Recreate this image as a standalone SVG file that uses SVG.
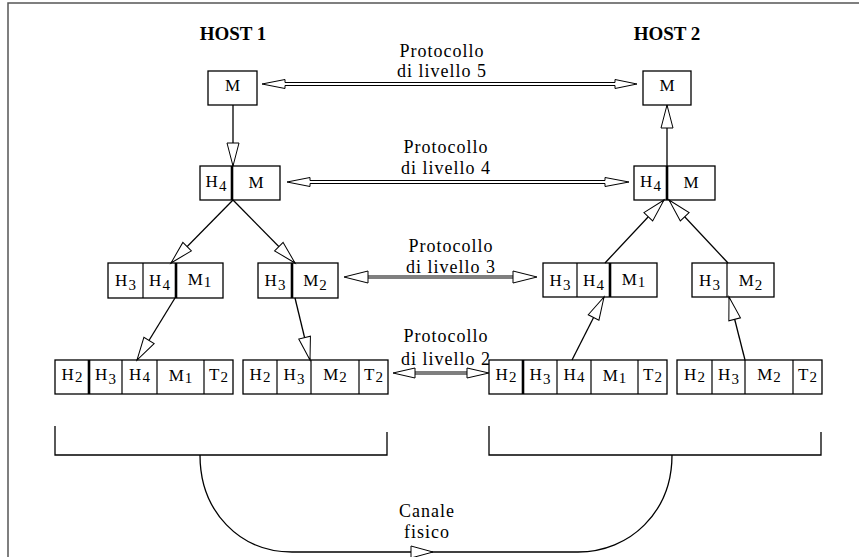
<svg xmlns="http://www.w3.org/2000/svg" width="859" height="557" viewBox="0 0 859 557">
<style>
.bx{fill:#fff;stroke:#000;stroke-width:1.3}
.dv{stroke:#000;stroke-width:1.2}
.dk{stroke:#000;stroke-width:2.6}
.t{font-family:"Liberation Serif","Times New Roman",serif;font-size:17px;letter-spacing:1px;fill:#000;text-anchor:middle}
.s{font-size:15px}
.lbl{font-family:"Liberation Serif","Times New Roman",serif;font-size:18px;letter-spacing:1px;fill:#000;text-anchor:middle}
.host{font-family:"Liberation Serif","Times New Roman",serif;font-size:19px;font-weight:bold;fill:#000;text-anchor:middle}
.ln{fill:none;stroke:#000;stroke-width:1.3}
.hol{fill:#fff;stroke:#000;stroke-width:1}
.gr{stroke:#7f7f7f;stroke-width:4;fill:none}
</style>
<defs>
<marker id="ah" markerUnits="userSpaceOnUse" markerWidth="26" markerHeight="14" viewBox="-1 -7 26 14" refX="23" refY="0" orient="auto" overflow="visible">
<path d="M0,-6 L23,0 L0,6 Z" fill="#fff" stroke="#000" stroke-width="1"/>
</marker>
</defs>
<rect width="859" height="557" fill="#fff"/>
<g id="frame">
<path d="M8,557 V3 H859" fill="none" stroke="#555" stroke-width="1.5"/>
</g>
<g id="labels">
<text class="host" x="233" y="40">HOST 1</text>
<text class="host" x="667" y="40">HOST 2</text>
<text class="lbl" x="442" y="57">Protocollo</text>
<text class="lbl" x="442" y="77">di livello 5</text>
<text class="lbl" x="446" y="153">Protocollo</text>
<text class="lbl" x="446" y="174">di livello 4</text>
<text class="lbl" x="451" y="252">Protocollo</text>
<text class="lbl" x="451" y="273">di livello 3</text>
<text class="lbl" x="446" y="342">Protocollo</text>
<text class="lbl" x="446" y="365">di livello 2</text>
<text class="lbl" x="427" y="517">Canale</text>
<text class="lbl" x="427" y="538">fisico</text>
</g>
<g id="h1-m">
<rect class="bx" x="208" y="71" width="49" height="34"/>
<text class="t" x="233" y="91">M</text>
</g>
<g id="h2-m">
<rect class="bx" x="643" y="71" width="48" height="34"/>
<text class="t" x="667.5" y="91">M</text>
</g>
<g id="h1-l4">
<rect class="bx" x="200" y="166" width="80" height="34"/>
<line class="dk" x1="232" y1="166" x2="232" y2="200"/>
<text class="t" x="216.5" y="187">H<tspan class="s" dy="4">4</tspan></text>
<text class="t" x="256.5" y="188">M</text>
</g>
<g id="h2-l4">
<rect class="bx" x="634" y="166" width="81" height="34"/>
<line class="dk" x1="667" y1="166" x2="667" y2="200"/>
<text class="t" x="651" y="187">H<tspan class="s" dy="4">4</tspan></text>
<text class="t" x="691.5" y="188">M</text>
</g>
<g id="h1-l3a">
<rect class="bx" x="108" y="263" width="115" height="35"/>
<line class="dv" x1="143" y1="263" x2="143" y2="298"/>
<line class="dk" x1="176" y1="263" x2="176" y2="298"/>
<text class="t" x="126" y="286">H<tspan class="s" dy="4">3</tspan></text>
<text class="t" x="160" y="286">H<tspan class="s" dy="4">4</tspan></text>
<text class="t" x="200" y="285">M<tspan class="s" dy="2">1</tspan></text>
</g>
<g id="h1-l3b">
<rect class="bx" x="258" y="263" width="80" height="35"/>
<line class="dk" x1="292" y1="263" x2="292" y2="298"/>
<text class="t" x="275.5" y="286">H<tspan class="s" dy="4">3</tspan></text>
<text class="t" x="315.5" y="286">M<tspan class="s" dy="4">2</tspan></text>
</g>
<g id="h2-l3a">
<rect class="bx" x="543" y="263" width="114" height="34"/>
<line class="dv" x1="577" y1="263" x2="577" y2="297"/>
<line class="dk" x1="610" y1="263" x2="610" y2="297"/>
<text class="t" x="560.5" y="286">H<tspan class="s" dy="4">3</tspan></text>
<text class="t" x="594" y="286">H<tspan class="s" dy="4">4</tspan></text>
<text class="t" x="634" y="285">M<tspan class="s" dy="2">1</tspan></text>
</g>
<g id="h2-l3b">
<rect class="bx" x="692" y="263" width="82" height="34"/>
<line class="dv" x1="727" y1="263" x2="727" y2="297"/>
<text class="t" x="710" y="286">H<tspan class="s" dy="4">3</tspan></text>
<text class="t" x="751" y="286">M<tspan class="s" dy="4">2</tspan></text>
</g>
<g id="h1-l2a">
<rect class="bx" x="55" y="360" width="178" height="34"/>
<line class="dk" x1="89" y1="360" x2="89" y2="394"/>
<line class="dv" x1="122" y1="360" x2="122" y2="394"/>
<line class="dv" x1="157" y1="360" x2="157" y2="394"/>
<line class="dv" x1="204" y1="360" x2="204" y2="394"/>
<text class="t" x="72.5" y="380">H<tspan class="s" dy="2">2</tspan></text>
<text class="t" x="106" y="380">H<tspan class="s" dy="4">3</tspan></text>
<text class="t" x="140" y="380">H<tspan class="s" dy="2">4</tspan></text>
<text class="t" x="181" y="381">M<tspan class="s" dy="2">1</tspan></text>
<text class="t" x="219" y="380">T<tspan class="s" dy="2">2</tspan></text>
</g>
<g id="h1-l2b">
<rect class="bx" x="243" y="360" width="145" height="34"/>
<line class="dv" x1="277" y1="360" x2="277" y2="394"/>
<line class="dv" x1="311" y1="360" x2="311" y2="394"/>
<line class="dv" x1="359" y1="360" x2="359" y2="394"/>
<text class="t" x="260.5" y="380">H<tspan class="s" dy="2">2</tspan></text>
<text class="t" x="294.5" y="380">H<tspan class="s" dy="4">3</tspan></text>
<text class="t" x="335.5" y="380">M<tspan class="s" dy="2">2</tspan></text>
<text class="t" x="374" y="380">T<tspan class="s" dy="2">2</tspan></text>
</g>
<g id="h2-l2a">
<rect class="bx" x="489" y="360" width="178" height="34"/>
<line class="dk" x1="523" y1="360" x2="523" y2="394"/>
<line class="dv" x1="557" y1="360" x2="557" y2="394"/>
<line class="dv" x1="591" y1="360" x2="591" y2="394"/>
<line class="dv" x1="638" y1="360" x2="638" y2="394"/>
<text class="t" x="506.5" y="380">H<tspan class="s" dy="2">2</tspan></text>
<text class="t" x="540.5" y="380">H<tspan class="s" dy="4">3</tspan></text>
<text class="t" x="574.5" y="380">H<tspan class="s" dy="2">4</tspan></text>
<text class="t" x="615" y="381">M<tspan class="s" dy="2">1</tspan></text>
<text class="t" x="653" y="380">T<tspan class="s" dy="2">2</tspan></text>
</g>
<g id="h2-l2b">
<rect class="bx" x="677" y="360" width="145" height="34"/>
<line class="dv" x1="712" y1="360" x2="712" y2="394"/>
<line class="dv" x1="745" y1="360" x2="745" y2="394"/>
<line class="dv" x1="793" y1="360" x2="793" y2="394"/>
<text class="t" x="695" y="380">H<tspan class="s" dy="2">2</tspan></text>
<text class="t" x="729" y="380">H<tspan class="s" dy="4">3</tspan></text>
<text class="t" x="769.5" y="380">M<tspan class="s" dy="2">2</tspan></text>
<text class="t" x="808" y="380">T<tspan class="s" dy="2">2</tspan></text>
</g>
<g id="h1-phys">
<path class="ln" d="M55,426 V455 H387 V432" stroke-width="1.5"/>
</g>
<g id="h2-phys">
<path class="ln" d="M489,426 V455 H821 V432" stroke-width="1.5"/>
</g>
<g id="connectors">
<line class="ln" x1="233" y1="105" x2="233" y2="166" marker-end="url(#ah)"/>
<line class="ln" x1="233" y1="200" x2="171" y2="263" marker-end="url(#ah)"/>
<line class="ln" x1="233" y1="200" x2="295" y2="263" marker-end="url(#ah)"/>
<line class="ln" x1="175" y1="298" x2="137" y2="360" marker-end="url(#ah)"/>
<line class="ln" x1="295" y1="298" x2="310" y2="360" marker-end="url(#ah)"/>
<line class="ln" x1="667" y1="166" x2="667" y2="105" marker-end="url(#ah)"/>
<line class="ln" x1="605" y1="263" x2="664" y2="200" marker-end="url(#ah)"/>
<line class="ln" x1="728" y1="263" x2="669" y2="200" marker-end="url(#ah)"/>
<line class="ln" x1="572" y1="360" x2="604" y2="297" marker-end="url(#ah)"/>
<line class="ln" x1="745" y1="360" x2="729" y2="297" marker-end="url(#ah)"/>
<path class="hol" d="M262,84 L285,79.5 L285,82.5 L615,82.5 L615,79.5 L637,84 L615,88.5 L615,85.5 L285,85.5 L285,88.5 Z"/>
<path class="hol" d="M287,182 L310,177.5 L310,180.5 L605,180.5 L605,177.5 L629,182 L605,186.5 L605,183.5 L310,183.5 L310,186.5 Z"/>
<line class="gr" x1="367" y1="277" x2="514" y2="277"/>
<path class="hol" d="M344,277 L368,271 L368,283 Z"/>
<path class="hol" d="M537,277 L513,271 L513,283 Z"/>
<line class="gr" x1="414" y1="373" x2="468" y2="373" stroke-width="3.5"/>
<path class="hol" d="M393,373 L415,368 L415,378 Z"/>
<path class="hol" d="M489,373 L467,368 L467,378 Z"/>
<path class="ln" d="M200,455 C200,512 240,552 292,552" stroke-width="1.5"/>
<path class="ln" d="M672,455 C672,512 630,552 578,552" stroke-width="1.5"/>
<line class="ln" x1="292" y1="552" x2="578" y2="552" stroke-width="1.5"/>
<path class="hol" d="M433,552 L411,546 L411,558 Z"/>
</g>
</svg>
